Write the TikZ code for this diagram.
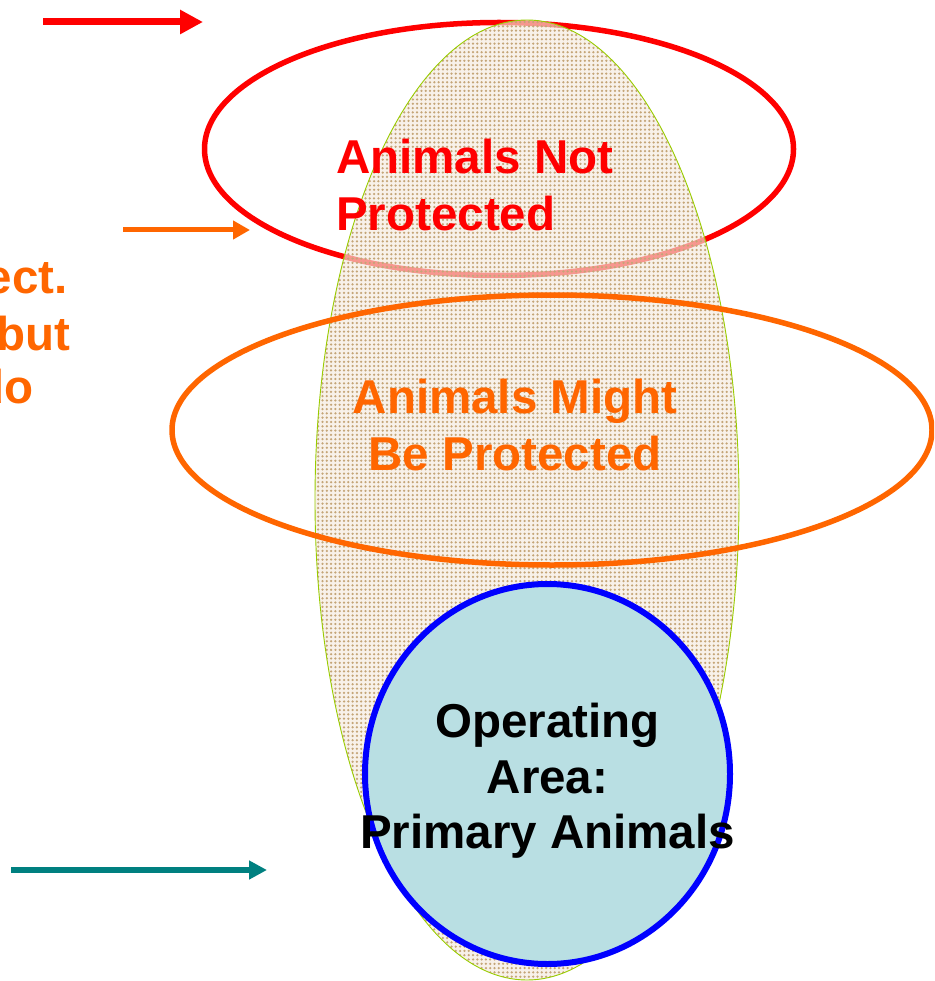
\documentclass[tikz,border=0pt]{standalone}
\usepackage{fontspec}
\setmainfont{Liberation Sans}
\usetikzlibrary{arrows.meta,patterns.meta}
\definecolor{cred}{HTML}{FF0000}
\definecolor{corange}{HTML}{FF6600}
\definecolor{cteal}{HTML}{008080}
\definecolor{cblue}{HTML}{0000FF}
\definecolor{cfillblue}{HTML}{B9DFE3}
\definecolor{cdots}{HTML}{C4A577}
\definecolor{cbase}{HTML}{F4E9DD}
\definecolor{cgreen}{HTML}{99CC00}
\tikzset{
  bigtext/.style={font=\bfseries\fontsize{47.5}{57}\selectfont, inner sep=0pt},
  ringred/.style={draw=cred, line width=5.5pt},
  ringorange/.style={draw=corange, line width=5.5pt},
  ringblue/.style={draw=cblue, line width=6pt, fill=cfillblue},
}
\begin{document}
\begin{tikzpicture}[x=1pt,y=-1pt]
\useasboundingbox (0,0) rectangle (934,981);
\clip (0,0) rectangle (934,981);
% red ellipse
\draw[ringred] (499,149) ellipse [x radius=294.5, y radius=126.5];
% big dotted ellipse
\fill[cbase, fill opacity=0.65] (527,500) ellipse [x radius=212, y radius=480];
\fill[pattern={Dots[distance=4.3pt, radius=1.25pt]}, pattern color=cdots] (527,500) ellipse [x radius=212, y radius=480];
\draw[cgreen, line width=0.9pt] (527,500) ellipse [x radius=212, y radius=480];
% orange ellipse
\draw[ringorange] (552,430) ellipse [x radius=380, y radius=135];
% blue circle
\draw[ringblue] (547.5,774) ellipse [x radius=182.5, y radius=190];
% texts
\node[bigtext, text=cred, align=left, anchor=north west] (notp) at (336,139) {Animals Not\\Protected};
\node[bigtext, text=corange, align=center, anchor=north] (might) at (515,379) {Animals Might\\Be Protected};
\node[bigtext, align=center, anchor=north, font=\bfseries\fontsize{47.5}{55.5}\selectfont] (area) at (547.5,703) {Operating\\Area:\\Primary Animals};
\node[bigtext, text=corange, anchor=base east] (l1) at (68,293) {ect.};
\node[bigtext, text=corange, anchor=base east] (l2) at (71,350) {but};
\node[bigtext, text=corange, anchor=base east] (l3) at (34,403) {do};
% arrows
\coordinate (ra) at (43,22); \coordinate (rb) at (203,22);
\coordinate (oa) at (123,230); \coordinate (ob) at (250,230);
\coordinate (ta) at (11,870); \coordinate (tb) at (267,870);
\draw[cred, line width=7pt, -{Triangle[length=23pt,width=23pt]}] (ra) -- (rb);
\draw[corange, line width=5pt, -{Triangle[length=17pt,width=18pt]}] (oa) -- (ob);
\draw[cteal, line width=5.5pt, -{Triangle[length=18pt,width=18pt]}] (ta) -- (tb);
\end{tikzpicture}
\end{document}
